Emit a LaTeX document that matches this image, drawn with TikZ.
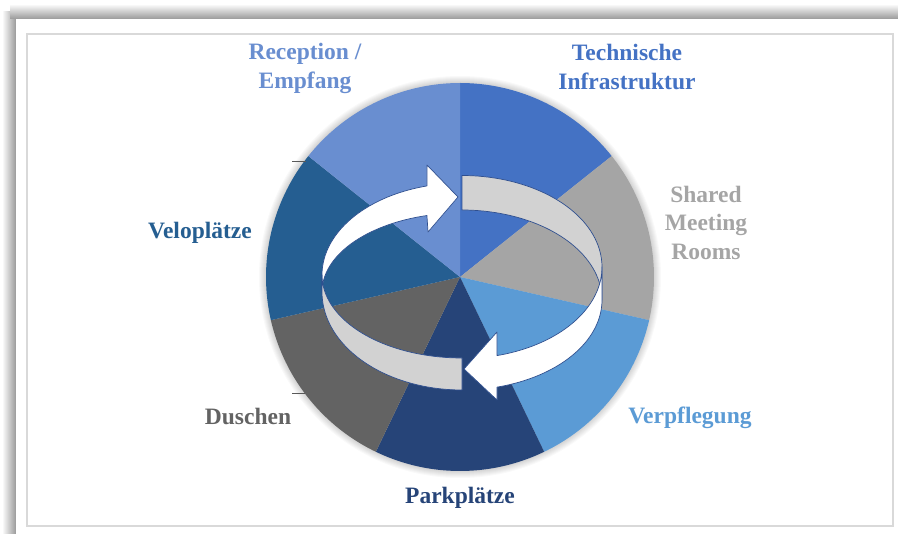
\documentclass[tikz,border=0pt]{standalone}
\usepackage{fontspec}
\setmainfont{Liberation Serif}
\definecolor{cTech}{HTML}{4472C4}
\definecolor{cShared}{HTML}{A5A5A5}
\definecolor{cVerp}{HTML}{5B9BD5}
\definecolor{cPark}{HTML}{264478}
\definecolor{cDusch}{HTML}{636363}
\definecolor{cVelo}{HTML}{255E91}
\definecolor{cRecep}{HTML}{698ED0}
\definecolor{cBand}{HTML}{D2D2D2}
\definecolor{cEdge}{HTML}{2F4F8F}
\definecolor{cFrame}{HTML}{D9D9D9}
\begin{document}
\begin{tikzpicture}[x=1pt,y=-1pt,
  lbl/.style={font=\bfseries\fontsize{23.5}{28.5}\selectfont, align=center, inner sep=0pt, anchor=base},
  ring/.style={draw=cEdge, line width=0.7pt, line join=round},
  leader/.style={draw=black!65, line width=1pt}]
\useasboundingbox (0,0) rectangle (898,534);
\fill[white] (0,0) rectangle (898,534);
% page shadow
\shade[left color=white, right color=black!40] (2,12) rectangle (16,534);
\shade[top color=white, bottom color=black!40] (10,4) rectangle (898,19);
\fill[white] (16,19) rectangle (898,534);
\draw[draw=cFrame, line width=1.5pt] (27,34) rectangle (893,526);
% pie shadow
\foreach \i in {1,...,7} \fill[black, opacity=0.025] (460,277) circle ({194+\i});
% pie slices
\foreach \a/\b/\c in {90/38.571/cTech, 38.571/-12.857/cShared, -12.857/-64.286/cVerp,
  -64.286/-115.714/cPark, -115.714/-167.143/cDusch, -167.143/-218.571/cVelo, -218.571/-270/cRecep}
  \fill[\c] (460,277) -- plot[domain=\a:\b, samples=40] ({460+194*cos(\x)},{277-194*sin(\x)}) -- cycle;
% ring: back right band
\filldraw[ring, fill=cBand] plot[domain=270:360, samples=40] ({462+140*cos(\x)},{267+91.5*sin(\x)})
  -- plot[domain=360:270, samples=40] ({462+140*cos(\x)},{300+90*sin(\x)}) -- cycle;
% ring: back left arrow
\filldraw[ring, fill=white] plot[domain=180:255.5, samples=40] ({462+140*cos(\x)},{275+92*sin(\x)})
  -- (427,165) -- (458,197) -- (428,232)
  -- plot[domain=255.5:180, samples=40] ({462+140*cos(\x)},{292+79*sin(\x)}) -- cycle;
% ring: front left band
\filldraw[ring, fill=cBand] plot[domain=90:180, samples=40] ({462+140*cos(\x)},{275+83*sin(\x)})
  -- plot[domain=180:90, samples=40] ({462+140*cos(\x)},{292+98*sin(\x)}) -- cycle;
% ring: front right arrow
\filldraw[ring, fill=white] plot[domain=0:75.5, samples=40] ({462+140*cos(\x)},{267+91.5*sin(\x)})
  -- (497,332) -- (464,369) -- (497,400)
  -- plot[domain=75.5:0, samples=40] ({462+140*cos(\x)},{300+90*sin(\x)}) -- cycle;
% leader ticks
\coordinate (veloA) at (292,162);
\coordinate (veloB) at (306,162);
\coordinate (duschA) at (292,394);
\coordinate (duschB) at (305,394);
\draw[leader] (veloA) -- (veloB);
\draw[leader] (duschA) -- (duschB);
% labels (base anchor = baseline of last line)
\node[lbl, text=cRecep] (recep) at (305,88.5) {Reception /\\Empfang};
\node[lbl, text=cTech] (tech) at (627,89.5) {Technische\\Infrastruktur};
\node[lbl, text=cShared] (shared) at (706,259.5) {Shared\\Meeting\\Rooms};
\node[lbl, text=cVerp] (verp) at (690,424) {Verpflegung};
\node[lbl, text=cPark] (park) at (460,503.5) {Parkplätze};
\node[lbl, text=cDusch] (dusch) at (248,425) {Duschen};
\node[lbl, text=cVelo] (velo) at (200,238.5) {Veloplätze};
\end{tikzpicture}
\end{document}
